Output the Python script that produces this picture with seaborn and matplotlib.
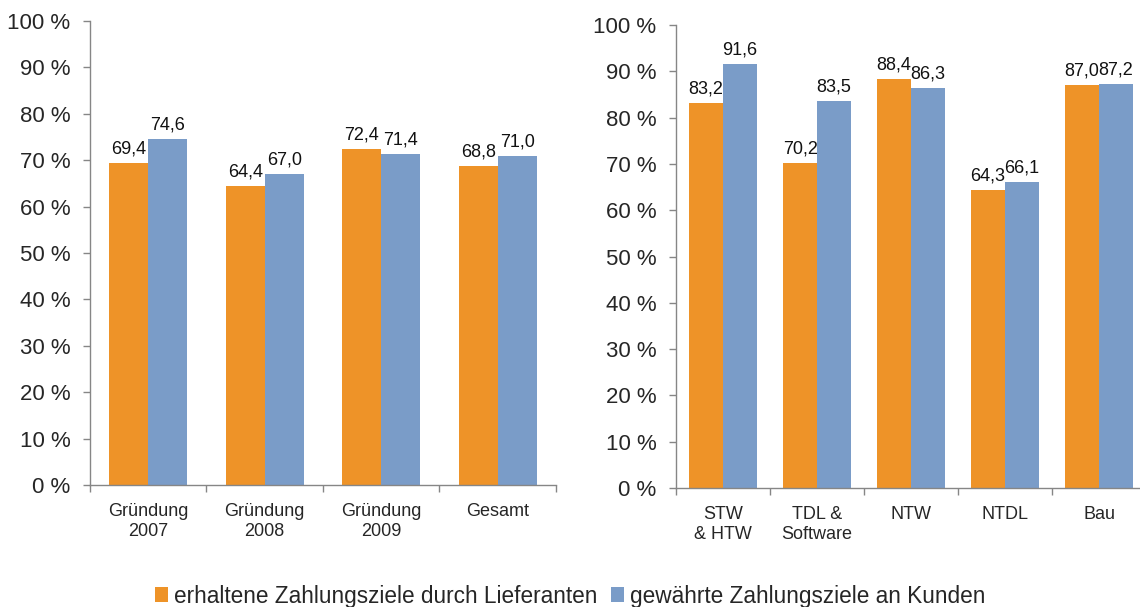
import matplotlib
matplotlib.use("Agg")
import matplotlib.pyplot as plt
import seaborn as sns
import pandas as pd
from matplotlib.patches import Patch
from matplotlib.ticker import FixedLocator

sns.set_style("white")
plt.rcParams['font.family'] = ['Liberation Sans', 'DejaVu Sans']

series = ["erhaltene Zahlungsziele durch Lieferanten", "gewährte Zahlungsziele an Kunden"]
colors = ["#EE9328", "#7A9CC8"]

left_cats = ["Gründung\n2007", "Gründung\n2008", "Gründung\n2009", "Gesamt"]
left_lief = [69.4, 64.4, 72.4, 68.8]
left_kund = [74.6, 67.0, 71.4, 71.0]

right_cats = ["STW\n& HTW", "TDL &\nSoftware", "NTW", "NTDL", "Bau"]
right_lief = [83.2, 70.2, 88.4, 64.3, 87.0]
right_kund = [91.6, 83.5, 86.3, 66.1, 87.2]

yticks = [0, 10, 20, 30, 40, 50, 60, 70, 80, 90, 100]
ytick_labels = [f"{t} %" for t in yticks]

fig = plt.figure(figsize=(11.4, 6.07), dpi=100)
ax1 = fig.add_axes([0.0789, 0.2010, 0.4088, 0.7644])
ax2 = fig.add_axes([0.5930, 0.1960, 0.4123, 0.7628])

spine_col = "#868686"

def draw(ax, cats, a, b, width):
    df = pd.DataFrame({
        "cat": cats * 2,
        "val": a + b,
        "ser": [series[0]] * len(cats) + [series[1]] * len(cats),
    })
    sns.barplot(data=df, x="cat", y="val", hue="ser", order=cats, hue_order=series,
                palette=colors, width=width, saturation=1, ax=ax, legend=False)
    for p in ax.patches:
        p.set_edgecolor("none")
        p.set_linewidth(0)
    for cont in ax.containers:
        ax.bar_label(cont, labels=[f"{v:.1f}".replace(".", ",") for v in cont.datavalues],
                     padding=4, fontsize=13, color="#111111")
    n = len(cats)
    ax.set_xlim(-0.5, n - 0.5)
    ax.set_ylim(0, 100)
    ax.set_yticks(yticks)
    ax.set_yticklabels(ytick_labels, fontsize=16)
    ax.xaxis.set_major_locator(FixedLocator([i - 0.5 for i in range(n + 1)]))
    ax.xaxis.set_major_formatter(plt.NullFormatter())
    ax.xaxis.set_minor_locator(FixedLocator(list(range(n))))
    ax.set_xticklabels(cats, minor=True, fontsize=13)
    ax.tick_params(axis="x", which="major", length=5, width=1, color=spine_col, direction="out", bottom=True)
    ax.tick_params(axis="x", which="minor", length=0, pad=13, bottom=True)
    ax.tick_params(axis="y", length=5, width=1, color=spine_col, direction="out", left=True, pad=9)
    ax.set_xlabel("")
    ax.set_ylabel("")
    for s in ["top", "right"]:
        ax.spines[s].set_visible(False)
    for s in ["left", "bottom"]:
        ax.spines[s].set_color(spine_col)
        ax.spines[s].set_linewidth(1)

draw(ax1, left_cats, left_lief, left_kund, 0.67)
draw(ax2, right_cats, right_lief, right_kund, 0.72)

handles = [Patch(facecolor=c, edgecolor="none") for c in colors]
fig.legend(handles, series, loc="center", bbox_to_anchor=(0.5, 0.018), ncol=2, frameon=False,
           fontsize=16.3, handlelength=0.6, handleheight=0.6, handletextpad=0.25, columnspacing=0.6)

fig.savefig("out.png", dpi=100)
